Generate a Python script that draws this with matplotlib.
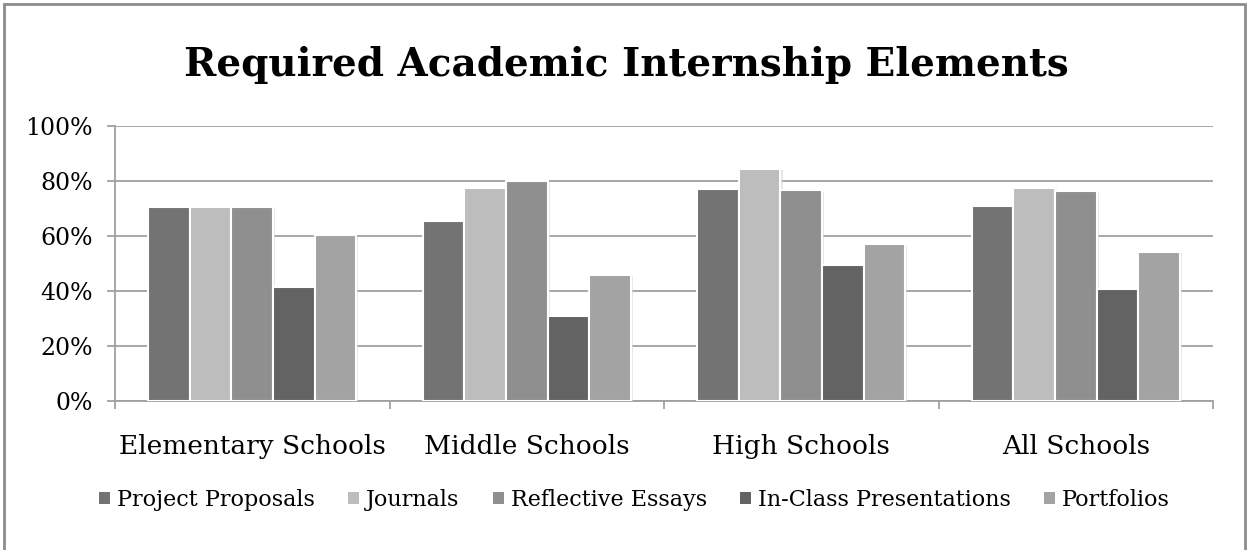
import matplotlib
matplotlib.use("Agg")
import matplotlib.pyplot as plt
import numpy as np
from matplotlib.patches import Rectangle
from matplotlib.ticker import FixedLocator, NullFormatter
import matplotlib.patheffects as pe

categories = ["Elementary Schools", "Middle Schools", "High Schools", "All Schools"]
series_names = ["Project Proposals", "Journals", "Reflective Essays",
                "In-Class Presentations", "Portfolios"]
project_proposals = [70.5, 65.6, 77.1, 71.0]
journals = [70.5, 77.6, 84.5, 77.6]
reflective_essays = [70.5, 79.9, 76.6, 76.2]
in_class_presentations = [41.6, 31.0, 49.6, 40.8]
portfolios = [60.3, 45.8, 57.0, 54.2]
yticks = [0, 20, 40, 60, 80, 100]
ytick_labels = ["0%", "20%", "40%", "60%", "80%", "100%"]

series = [project_proposals, journals, reflective_essays, in_class_presentations, portfolios]
colors = ["#737373", "#bdbdbd", "#8f8f8f", "#636363", "#a3a3a3"]

plt.rcParams['font.family'] = ['DejaVu Serif']

fig = plt.figure(figsize=(12.47, 5.5), dpi=100)
ax = fig.add_axes([115/1247, 1 - 401/550, (1213 - 115)/1247, 275/550])

x = np.arange(len(categories))
bw = 0.1513
grid_c = "#a0a0a0"
for i, (vals, c, name) in enumerate(zip(series, colors, series_names)):
    offs = (i - 2) * bw
    bars = ax.bar(x + offs, vals, width=bw, color=c, edgecolor="white",
                  linewidth=1.5, label=name, zorder=3)
    for b in bars:
        b.set_path_effects([pe.SimplePatchShadow(offset=(1.5, -1), shadow_rgbFace="#d8d8d8", alpha=0.6),
                            pe.Normal()])

ax.set_xlim(-0.5, len(categories) - 0.5)
ax.set_ylim(0, 100)
ax.set_yticks(yticks)
ax.set_yticklabels(ytick_labels)
ax.yaxis.grid(True, color=grid_c, linewidth=1.3, zorder=0)
ax.set_axisbelow(True)

ax.xaxis.set_major_locator(FixedLocator(np.arange(len(categories) + 1) - 0.5))
ax.xaxis.set_major_formatter(NullFormatter())
ax.xaxis.set_minor_locator(FixedLocator(x))
ax.set_xticklabels(categories, minor=True, fontsize=19)
ax.tick_params(axis='x', which='minor', length=0, pad=24)
ax.tick_params(axis='x', which='major', length=6, width=1.3, color=grid_c, direction='out')
ax.tick_params(axis='y', length=6, width=1.3, color=grid_c, pad=10, labelsize=17)

for s in ["top", "right"]:
    ax.spines[s].set_visible(False)
for s in ["left", "bottom"]:
    ax.spines[s].set_color(grid_c)
    ax.spines[s].set_linewidth(1.3)

fig.suptitle("Required Academic Internship Elements", x=626/1247, y=1 - 65/550,
             va="center", fontsize=28, fontweight="bold")

leg = fig.legend(loc="center", bbox_to_anchor=(634.5/1247, 1 - 500/550), ncol=5,
                 frameon=False, fontsize=16, handlelength=0.5, handleheight=0.5,
                 handletextpad=0.3, columnspacing=1.5)
for h in leg.legend_handles:
    h.set_path_effects([])
    h.set_edgecolor("none")

fig.patches.append(Rectangle((4/1247, -0.05), (1245 - 4)/1247, 1.05 - 4/550,
                             transform=fig.transFigure, fill=False,
                             edgecolor="#8c8c8c", linewidth=2))

fig.savefig("out.png", dpi=100)
